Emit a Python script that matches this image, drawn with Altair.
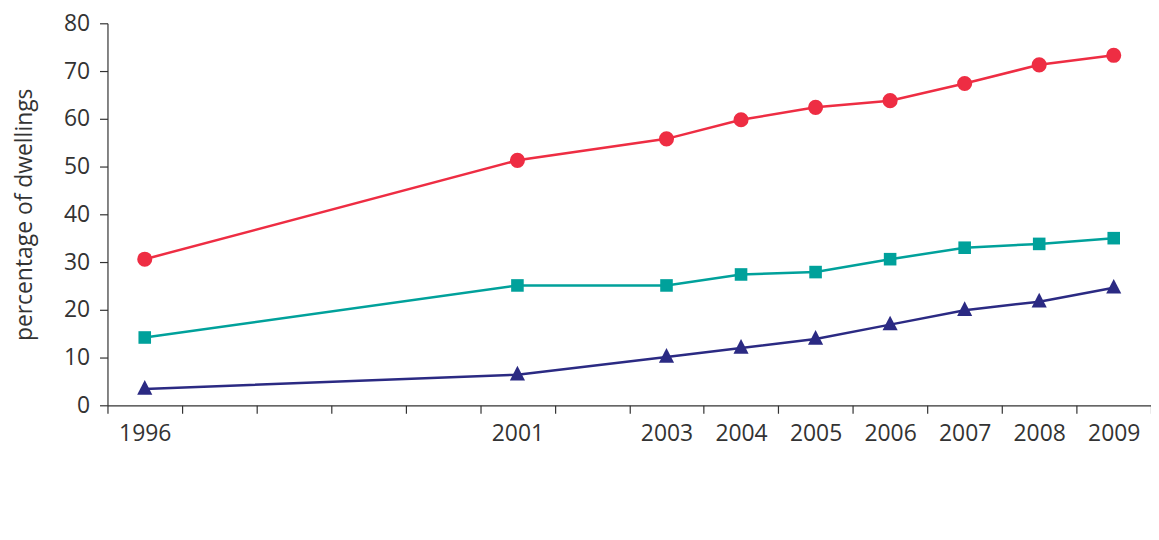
import math
import altair as alt
import pandas as pd

years = [1996, 2001, 2003, 2004, 2005, 2006, 2007, 2008, 2009]
cavity = [14.2, 25.1, 25.1, 27.4, 27.9, 30.6, 33.0, 33.8, 35.0]
loft = [3.4, 6.4, 10.1, 12.0, 13.9, 16.9, 19.9, 21.7, 24.6]
glazing = [30.6, 51.3, 55.8, 59.8, 62.4, 63.8, 67.4, 71.3, 73.3]

series_names = ["cavity walls with insulation", "200mm or more of loft insulation", "entire house double glazing"]
series_colors = ["#00A19B", "#2B2A83", "#EE2D43"]

label_years = [1996, 2001, 2003, 2004, 2005, 2006, 2007, 2008, 2009]
tick_bounds = [y - 0.5 for y in range(1996, 2011)]
y_ticks = [0, 10, 20, 30, 40, 50, 60, 70, 80]

rows = []
for name, vals in zip(series_names, [cavity, loft, glazing]):
    for yr, v in zip(years, vals):
        rows.append({"year": yr, "value": v, "series": name})
df = pd.DataFrame(rows)

FONT = "Open Sans"
TXT = "#333333"
PLOT_W = 1049
SLOT = PLOT_W / (len(tick_bounds) - 1)

color_scale = alt.Scale(domain=series_names, range=series_colors)
label_list = ",".join(str(y) for y in label_years)

x_enc = alt.X(
    "year:Q",
    scale=alt.Scale(domain=[1995.5, 2009.5], nice=False, zero=False),
    axis=alt.Axis(
        values=tick_bounds,
        labelExpr=f"indexof([{label_list}], datum.value + 0.5) >= 0 ? toString(datum.value + 0.5) : ''",
        labelOffset=SLOT / 2,
        labelAlign="center",
        title=None,
        grid=False,
        tickSize=8,
        labelPadding=9,
        labelFontSize=23,
        labelOverlap=False,
        labelFlush=False,
        labelBound=False,
        labelFont=FONT,
        labelColor=TXT,
        domainColor=TXT,
        tickColor=TXT,
        domainWidth=1.2,
        tickWidth=1.2,
    ),
)
y_enc = alt.Y(
    "value:Q",
    scale=alt.Scale(domain=[0, 80], nice=False),
    axis=alt.Axis(
        values=y_ticks,
        title="percentage of dwellings",
        grid=False,
        tickSize=8,
        labelPadding=10,
        labelFontSize=23,
        labelFont=FONT,
        labelColor=TXT,
        titleFont=FONT,
        titleColor=TXT,
        titleFontSize=23,
        titleFontWeight="normal",
        titlePadding=27,
        domainColor=TXT,
        tickColor=TXT,
        domainWidth=1.2,
        tickWidth=1.2,
    ),
)

base = alt.Chart(df)

lines = base.mark_line(strokeWidth=2.5).encode(
    x=x_enc, y=y_enc,
    color=alt.Color("series:N", scale=color_scale, legend=None),
)

tri_plot = "M0,-0.9L0.76,0.58L-0.76,0.58Z"
point_shapes = ["square", tri_plot, "circle"]
point_sizes = [160, 400, 230]

point_layers = []
for name, shp, sz in zip(series_names, point_shapes, point_sizes):
    point_layers.append(
        base.transform_filter(alt.datum.series == name)
        .mark_point(filled=True, opacity=1, shape=shp, size=sz)
        .encode(
            x=x_enc, y=y_enc,
            color=alt.Color("series:N", scale=color_scale, legend=None),
        )
    )

# legend symbols: thin bar (the line) + marker, all filled (unit = 30 px)
lw = 0.042
bar = f"M-1,{-lw:.3f}H1V{lw:.3f}H-1Z"
sq = 0.3
leg_square = bar + f"M-{sq},-{sq}H{sq}V{sq}H-{sq}Z"
leg_tri = bar + "M0,-0.4L0.33,0.27L-0.33,0.27Z"
r = 0.3
circ_pts = [(r * math.cos(2 * math.pi * k / 28), r * math.sin(2 * math.pi * k / 28)) for k in range(28)]
leg_circle = bar + "M" + "L".join(f"{px:.3f},{py:.3f}" for px, py in circ_pts) + "Z"
legend_paths = [leg_square, leg_tri, leg_circle]

leg = alt.Legend(
    orient="none",
    legendX=-20,
    legendY=458,
    direction="horizontal",
    title=None,
    symbolSize=3600,
    symbolStrokeWidth=0,
    labelFontSize=18,
    labelFont=FONT,
    labelColor=TXT,
    labelOffset=12,
    columnPadding=28,
)

# legend-only layer: placed outside the x domain and clipped away, it only feeds the legend
legend_layer = base.mark_point(filled=True, opacity=1, clip=True).encode(
    x=alt.datum(1980),
    y=y_enc,
    fill=alt.Fill("series:N", scale=alt.Scale(domain=series_names, range=series_colors), legend=leg),
    shape=alt.Shape("series:N", scale=alt.Scale(domain=series_names, range=legend_paths), legend=leg),
)

chart = alt.layer(lines, *point_layers, legend_layer).properties(
    width=PLOT_W,
    height=384,
    autosize=alt.AutoSizeParams(type="none"),
    padding={"left": 100, "top": 14, "right": 0, "bottom": 128},
    background="white",
).configure_view(stroke=None)

chart.save("out.html", embed_options={"renderer": "svg", "actions": False})
